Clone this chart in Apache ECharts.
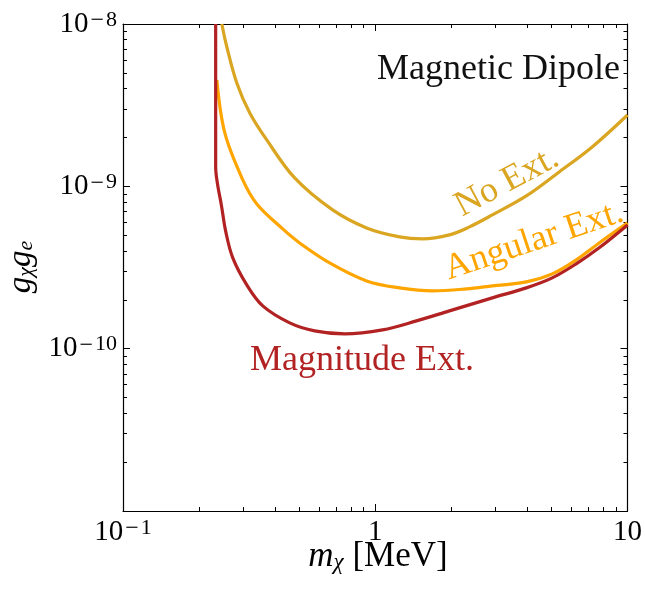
<!DOCTYPE html>
<html><head><meta charset="utf-8">
<script src="https://cdn.jsdelivr.net/npm/echarts@6/dist/echarts.min.js"></script>
<style>html,body{margin:0;padding:0;background:#fff}#c{width:645px;height:593px}</style>
</head><body><div id="c"></div>
<script>
// Magnitude Ext. (red)
const magX = [0.233, 0.233, 0.2366, 0.2454, 0.2556, 0.2724, 0.3095, 0.3581, 0.4580, 0.5751, 0.7562, 1.0688, 1.4571, 1.968, 2.912, 3.970, 5.030, 6.261, 7.721, 10];
const magY = [1e-8, 1.316e-9, 1.049e-9, 7.68e-10, 5.24e-10, 3.624e-10, 2.471e-10, 1.835e-10, 1.442e-10, 1.287e-10, 1.233e-10, 1.305e-10, 1.483e-10, 1.709e-10, 2.056e-10, 2.368e-10, 2.729e-10, 3.33e-10, 4.18e-10, 5.785e-10];
// Angular Ext. (orange)
const angX = [0.2355, 0.2533, 0.2985, 0.3391, 0.4297, 0.5016, 0.6594, 0.9238, 1.248, 1.686, 2.298, 2.912, 3.970, 5.030, 6.261, 7.721, 10];
const angY = [4.519e-9, 2.132e-9, 1.095e-9, 7.79e-10, 5.466e-10, 4.48e-10, 3.376e-10, 2.615e-10, 2.368e-10, 2.269e-10, 2.334e-10, 2.435e-10, 2.578e-10, 2.888e-10, 3.523e-10, 4.48e-10, 5.951e-10];
// No Ext. (gold)
const noX = [0.2465, 0.2580, 0.2826, 0.3181, 0.3714, 0.4793, 0.6777, 0.9238, 1.248, 1.539, 1.968, 2.362, 2.912, 3.970, 5.362, 7.243, 10];
const noY = [1e-8, 7.216e-9, 4.331e-9, 2.831e-9, 1.931e-9, 1.126e-9, 7.155e-10, 5.544e-10, 4.881e-10, 4.745e-10, 5.021e-10, 5.623e-10, 6.666e-10, 8.727e-10, 1.227e-9, 1.748e-9, 2.752e-9];

const xMajor = [0.1, 1, 10];
const xMinor = [0.2, 0.3, 0.4, 0.5, 0.6, 0.7, 0.8, 0.9, 2, 3, 4, 5, 6, 7, 8, 9];
const yMajor = [1e-11, 1e-10, 1e-9, 1e-8];
const yLabels = [1e-10, 1e-9, 1e-8];
const yMinor = [2e-11, 3e-11, 4e-11, 5e-11, 6e-11, 7e-11, 8e-11, 9e-11,
                2e-10, 3e-10, 4e-10, 5e-10, 6e-10, 7e-10, 8e-10, 9e-10,
                2e-9, 3e-9, 4e-9, 5e-9, 6e-9, 7e-9, 8e-9, 9e-9];

const F = '"Liberation Serif", "Times New Roman", serif';
const C_RED = '#B22222', C_ORA = '#FFA500', C_GOLD = '#DAA520';

function pow10Label(v) {
  const e = Math.round(Math.log10(v));
  if (e === 0) return '{b|1}';
  if (e === 1) return '{b|10}';
  return '{b|10}{m|\u2212}{s|' + (-e) + '}';
}
const rich = {
  b: {fontFamily: F, fontSize: 29, color: '#000', lineHeight: 30},
  m: {fontFamily: F, fontSize: 24, color: '#000', verticalAlign: 'top', lineHeight: 20, padding: [0, 2, 0, 2]},
  s: {fontFamily: F, fontSize: 22, color: '#000', verticalAlign: 'top', lineHeight: 20}
};

function xAx(pos, ticks, len, label, line) {
  return {
    type: 'log', logBase: 10, min: 0.1, max: 10, position: pos,
    axisLine: {show: line, onZero: false, lineStyle: {color: '#000', width: 1.2}},
    axisTick: {show: true, inside: true, length: len, customValues: ticks, lineStyle: {color: '#000', width: 1}},
    axisLabel: {show: label, customValues: xMajor, formatter: pow10Label, margin: 6, rich: rich},
    splitLine: {show: false}, minorTick: {show: false}, minorSplitLine: {show: false}
  };
}
function yAx(pos, ticks, len, label, line) {
  return {
    type: 'log', logBase: 10, min: 1e-11, max: 1e-8, position: pos,
    axisLine: {show: line, onZero: false, lineStyle: {color: '#000', width: 1.2}},
    axisTick: {show: true, inside: true, length: len, customValues: ticks, lineStyle: {color: '#000', width: 1}},
    axisLabel: {show: label, customValues: yLabels, formatter: pow10Label, margin: 6, rich: rich},
    splitLine: {show: false}, minorTick: {show: false}, minorSplitLine: {show: false}
  };
}
function pairs(xs, ys) { return xs.map((x, i) => [x, ys[i]]); }
function line(name, xs, ys, color) {
  return {
    name: name, type: 'line', xAxisIndex: 0, yAxisIndex: 0,
    data: pairs(xs, ys), showSymbol: false, symbol: 'none', smooth: 0.35,
    lineStyle: {color: color, width: 3.2}, itemStyle: {color: color}, clip: true
  };
}

const chart = echarts.init(document.getElementById('c'), null, {renderer: 'canvas'});
chart.setOption({
  animation: false,
  backgroundColor: '#fff',
  grid: {left: 123, right: 17, top: 24, bottom: 82, containLabel: false},
  xAxis: [
    xAx('bottom', xMajor, 7, true, true),
    xAx('bottom', xMinor, 4, false, false),
    xAx('top', xMajor, 7, false, true),
    xAx('top', xMinor, 4, false, false)
  ],
  yAxis: [
    yAx('left', yMajor, 7, true, true),
    yAx('left', yMinor, 4, false, false),
    yAx('right', yMajor, 7, false, true),
    yAx('right', yMinor, 4, false, false)
  ],
  series: [
    line('No Ext.', noX, noY, C_GOLD),
    line('Angular Ext.', angX, angY, C_ORA),
    line('Magnitude Ext.', magX, magY, C_RED)
  ],
  graphic: [
    {type: 'text', x: 377, y: 70, style: {text: 'Magnetic Dipole', fontFamily: F, fontSize: 36, fill: '#111', align: 'left', verticalAlign: 'middle'}},
    {type: 'text', x: 250, y: 361, style: {text: 'Magnitude Ext.', fontFamily: F, fontSize: 36, fill: C_RED, align: 'left', verticalAlign: 'middle'}},
    {type: 'text', x: 507, y: 182, rotation: 28 * Math.PI / 180, style: {text: 'No Ext.', fontFamily: F, fontSize: 36, fill: C_GOLD, align: 'center', verticalAlign: 'middle'}},
    {type: 'text', x: 534, y: 241, rotation: 18.5 * Math.PI / 180, style: {text: 'Angular Ext.', fontFamily: F, fontSize: 36, fill: C_ORA, align: 'center', verticalAlign: 'middle'}},
    {type: 'text', x: 21, y: 267, rotation: Math.PI / 2, style: {
      text: '{i|g}{sub|\u03c7}{i|g}{sub|e}', align: 'center', verticalAlign: 'middle',
      rich: {
        i: {fontFamily: F, fontStyle: 'italic', fontSize: 33, fill: '#000', color: '#000'},
        sub: {fontFamily: F, fontStyle: 'italic', fontSize: 22, fill: '#000', color: '#000', verticalAlign: 'bottom'}
      }}},
    {type: 'text', x: 378, y: 557, style: {
      text: '{i|m}{sub|\u03c7}{r| [MeV]}', align: 'center', verticalAlign: 'middle',
      rich: {
        i: {fontFamily: F, fontStyle: 'italic', fontSize: 35, fill: '#000', color: '#000'},
        sub: {fontFamily: F, fontStyle: 'italic', fontSize: 23, fill: '#000', color: '#000', verticalAlign: 'bottom'},
        r: {fontFamily: F, fontSize: 35, fill: '#000', color: '#000'}
      }}}
  ]
});
</script>
</body></html>
